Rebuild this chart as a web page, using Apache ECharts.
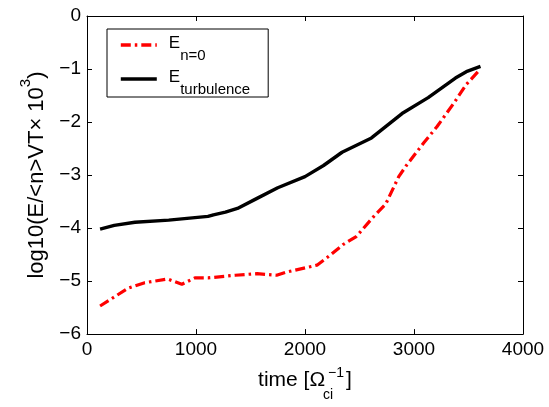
<!DOCTYPE html>
<html>
<head>
<meta charset="utf-8">
<script src="https://cdn.jsdelivr.net/npm/echarts@6/dist/echarts.min.js"></script>
<style>
html, body { margin: 0; padding: 0; background: #fff; }
#chart { width: 549px; height: 407px; }
</style>
</head>
<body>
<div id="chart"></div>
<script>
// E_turbulence
const timeTurb = [120, 250, 440, 750, 1110, 1160, 1270, 1380, 1560, 1750, 2000, 2170, 2340, 2610, 2890, 3130, 3380, 3480, 3610]
const energyTurb = [-4.02, -3.95, -3.89, -3.85, -3.78, -3.75, -3.70, -3.63, -3.44, -3.24, -3.03, -2.82, -2.57, -2.30, -1.84, -1.54, -1.17, -1.05, -0.95]

// E_{n=0}
const timeN0 = [120, 250, 380, 530, 740, 870, 990, 1110, 1360, 1560, 1740, 1830, 2110, 2220, 2350, 2470, 2640, 2740, 2860, 2930, 3090, 3210, 3360, 3480, 3610]
const energyN0 = [-5.47, -5.30, -5.13, -5.03, -4.96, -5.06, -4.94, -4.94, -4.89, -4.86, -4.89, -4.83, -4.70, -4.53, -4.31, -4.16, -3.76, -3.55, -3.03, -2.82, -2.39, -2.09, -1.66, -1.29, -1.00]

const FONT = 'Liberation Sans'
const minus = v => String(v).replace('-', '\u2212')

const chart = echarts.init(document.getElementById('chart'))

const baseAxis = {
  axisLine: { show: true, onZero: false, lineStyle: { color: '#000', width: 1 } },
  axisTick: { show: true, inside: true, length: 5, lineStyle: { color: '#000' } },
  splitLine: { show: false },
}

const xAxisBase = { ...baseAxis, type: 'value', min: 0, max: 4000, interval: 1000 }
const yAxisBase = { ...baseAxis, type: 'value', min: -6, max: 0, interval: 1 }

chart.setOption({
  animation: false,
  backgroundColor: '#fff',
  grid: { left: 87, top: 16, right: 26, bottom: 63 },
  legend: {
    left: 107,
    top: 29,
    orient: 'vertical',
    padding: [6, 18, 0, 12],
    itemWidth: 36,
    itemHeight: 12,
    itemGap: 6,
    borderColor: '#000',
    borderWidth: 1,
    borderRadius: 0,
    itemStyle: { opacity: 0 },
    lineStyle: { width: 3.6 },
    data: ['n0', 'turb'],
    formatter: name => (name === 'n0' ? '{e|E}{s|n=0}' : '{e|E}{s|turbulence}'),
    textStyle: {
      color: '#000',
      fontFamily: FONT,
      rich: {
        e: { fontSize: 17, lineHeight: 20, verticalAlign: 'top', padding: [0, 0, 0, 7], fontFamily: FONT, color: '#000' },
        s: { fontSize: 15, lineHeight: 14, verticalAlign: 'top', padding: [13, 0, 0, 0], fontFamily: FONT, color: '#000' },
      },
    },
  },
  xAxis: [
    {
      ...xAxisBase,
      position: 'bottom',
      axisLabel: { fontSize: 19, fontFamily: FONT, color: '#000', margin: 6, formatter: v => String(v) },
      name: '{n|time [Ω}{sub|ci}{sup|\u22121}{n|]}',
      nameLocation: 'middle',
      nameGap: 14,
      nameTextStyle: {
        fontFamily: FONT,
        color: '#000',
        rich: {
          n: { fontSize: 21, lineHeight: 24, verticalAlign: 'top', padding: [6, 0, 0, 0], fontFamily: FONT, color: '#000' },
          sub: { fontSize: 14, lineHeight: 14, width: 0, verticalAlign: 'top', padding: [24, 0, 0, 3], fontFamily: FONT, color: '#000' },
          sup: { fontSize: 14, lineHeight: 14, verticalAlign: 'top', padding: [2, 2, 0, 0], fontFamily: FONT, color: '#000' },
        },
      },
    },
    { ...xAxisBase, position: 'top', axisLabel: { show: false } },
  ],
  yAxis: [
    {
      ...yAxisBase,
      position: 'left',
      axisLabel: { fontSize: 19, fontFamily: FONT, color: '#000', margin: 6, formatter: minus },
      name: '{n|log10(E/<n>VT× 10}{sup|3}{n|)}',
      nameLocation: 'middle',
      nameRotate: 90,
      nameGap: 39,
      nameTextStyle: {
        fontFamily: FONT,
        color: '#000',
        rich: {
          n: { fontSize: 22, lineHeight: 24, verticalAlign: 'top', padding: [10, 0, 0, 0], fontFamily: FONT, color: '#000' },
          sup: { fontSize: 15, lineHeight: 14, verticalAlign: 'top', padding: [2, 0, 0, 0], fontFamily: FONT, color: '#000' },
        },
      },
    },
    { ...yAxisBase, position: 'right', axisLabel: { show: false } },
  ],
  series: [
    {
      name: 'n0',
      type: 'line',
      showSymbol: false,
      symbol: 'none',
      data: timeN0.map((t, i) => [t, energyN0[i]]),
      lineStyle: { color: '#ff0000', width: 3.2, type: [10, 4, 2.5, 4], cap: 'butt' },
      itemStyle: { color: '#ff0000' },
      z: 3,
    },
    {
      name: 'turb',
      type: 'line',
      showSymbol: false,
      symbol: 'none',
      data: timeTurb.map((t, i) => [t, energyTurb[i]]),
      lineStyle: { color: '#000', width: 3.4 },
      itemStyle: { color: '#000' },
      z: 2,
    },
  ],
})
</script>
</body>
</html>
